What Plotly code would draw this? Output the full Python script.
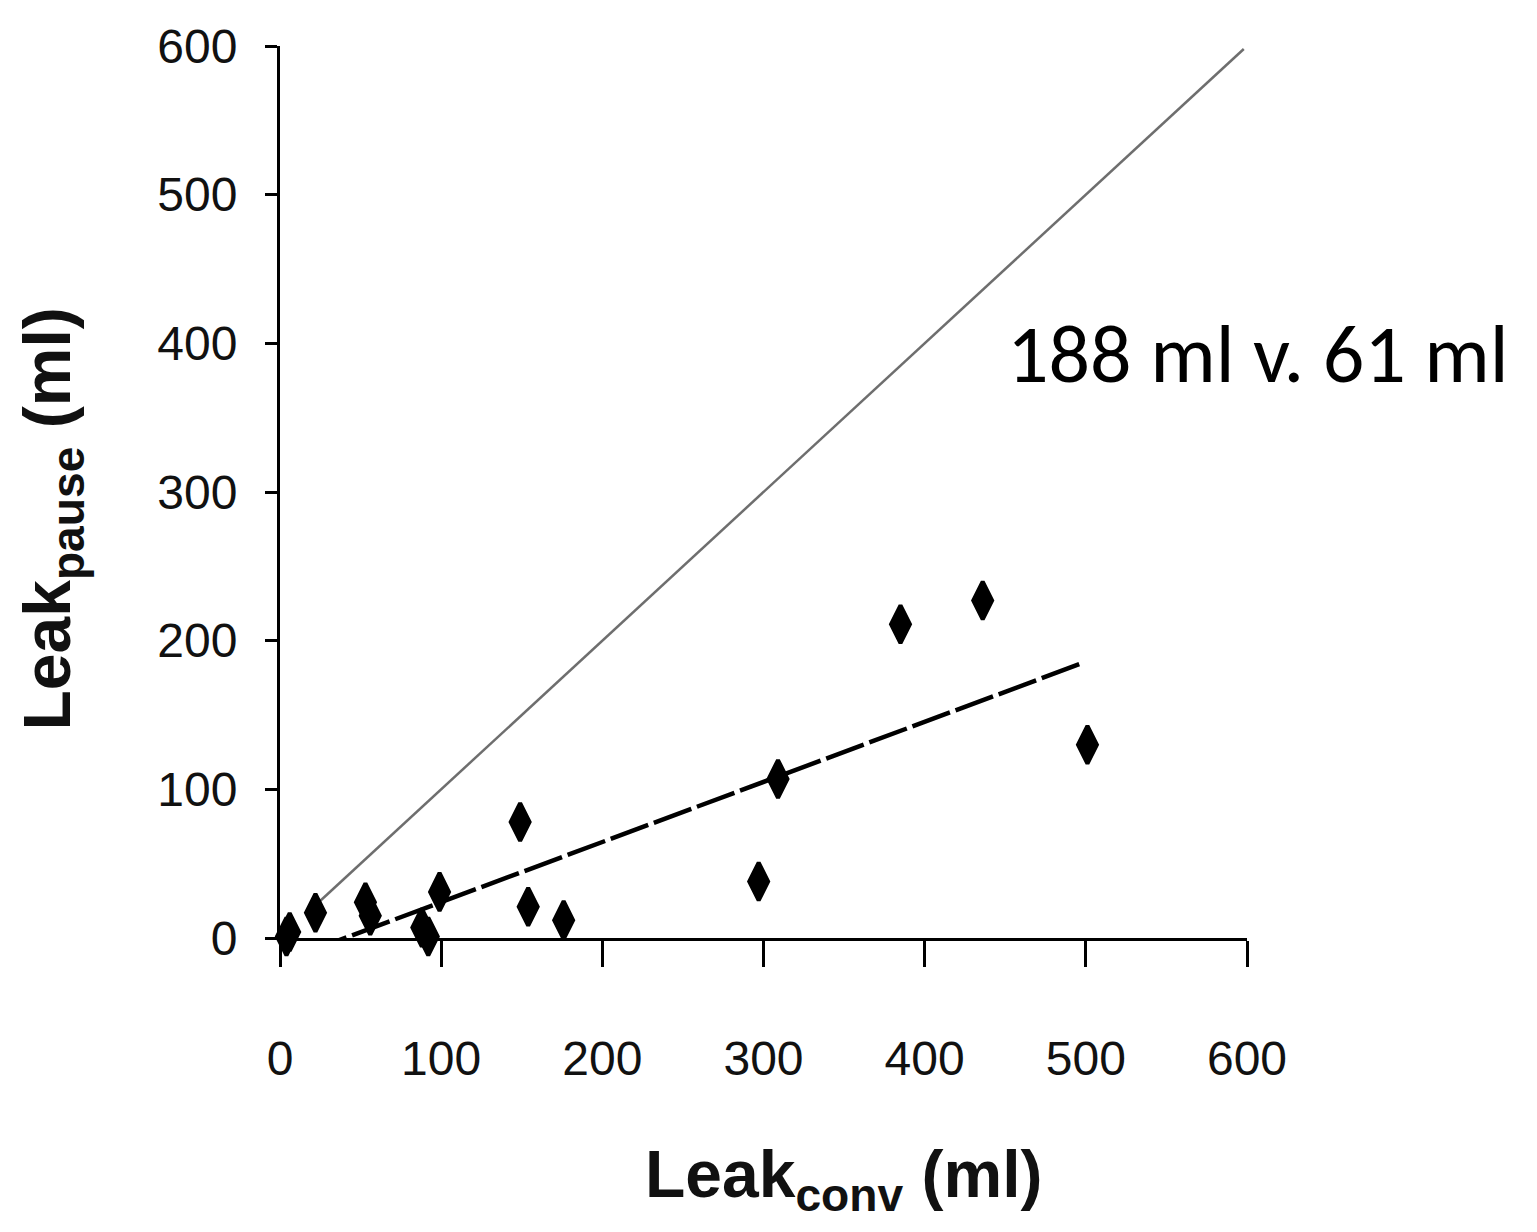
import plotly.graph_objects as go

# Data
leak_conv = [4, 6, 22, 53, 56, 88, 92, 99, 149, 154, 176, 297, 309, 385, 436, 501]
leak_pause = [1, 4, 17, 24, 15, 7, 1, 31, 78, 21, 12, 38, 107, 211, 227, 130]

identity_x = [22, 598]
identity_y = [22, 598]

trend_x = [18, 498]
trend_y = [-9, 185]

tick_vals = [0, 100, 200, 300, 400, 500, 600]
tick_text = ["0", "100", "200", "300", "400", "500", "600"]

annotation_text = "188 ml v. 61 ml"
x_title = "<b>Leak<sub>conv</sub> (ml)</b>"
y_title = "<b>Leak<sub>pause</sub> (ml)</b>"

tick_font = dict(family="Liberation Sans, Arial, sans-serif", size=48, color="#111")
title_font = dict(family="Liberation Sans, Arial, sans-serif", size=66, color="#111")

fig = go.Figure()

fig.add_trace(go.Scatter(
    x=identity_x, y=identity_y, mode="lines",
    line=dict(color="#6e6e6e", width=2.5),
    hoverinfo="skip", showlegend=False,
))

fig.add_trace(go.Scatter(
    x=trend_x, y=trend_y, mode="lines",
    line=dict(color="black", width=4.5, dash="40px,6px"),
    cliponaxis=False,
    hoverinfo="skip", showlegend=False,
))

fig.add_trace(go.Scatter(
    x=leak_conv, y=leak_pause, mode="markers",
    marker=dict(symbol="diamond-tall", size=27, color="black",
                line=dict(color="black", width=4)),
    cliponaxis=False,
    showlegend=False,
))

fig.update_xaxes(
    range=[0, 600], tickvals=tick_vals, ticktext=tick_text,
    showgrid=False, zeroline=False,
    showline=True, linecolor="black", linewidth=3,
    ticks="outside", ticklen=26, tickwidth=3, tickcolor="black",
    ticklabelstandoff=50, tickfont=tick_font,
)
fig.update_yaxes(
    range=[0, 600], tickvals=tick_vals, ticktext=tick_text,
    showgrid=False, zeroline=False,
    showline=True, linecolor="black", linewidth=3,
    ticks="outside", ticklen=12, tickwidth=3, tickcolor="black",
    ticklabelstandoff=18, tickfont=tick_font,
)

fig.add_annotation(
    x=0.583, y=-0.27, xref="paper", yref="paper", text=x_title,
    showarrow=False, font=title_font, xanchor="center", yanchor="middle",
)
fig.add_annotation(
    x=-0.236, y=0.47, xref="paper", yref="paper", text=y_title, textangle=-90,
    showarrow=False, font=title_font, xanchor="center", yanchor="middle",
)
fig.add_annotation(
    x=450, y=393, xref="x", yref="y", text=annotation_text,
    showarrow=False, xanchor="left", yanchor="middle",
    font=dict(family="Carlito, Open Sans, sans-serif", size=82, color="black"),
)

fig.update_layout(
    width=1537, height=1232,
    margin=dict(l=272, r=298, t=36, b=302),
    plot_bgcolor="white", paper_bgcolor="white",
)

fig.write_html("out.html")
